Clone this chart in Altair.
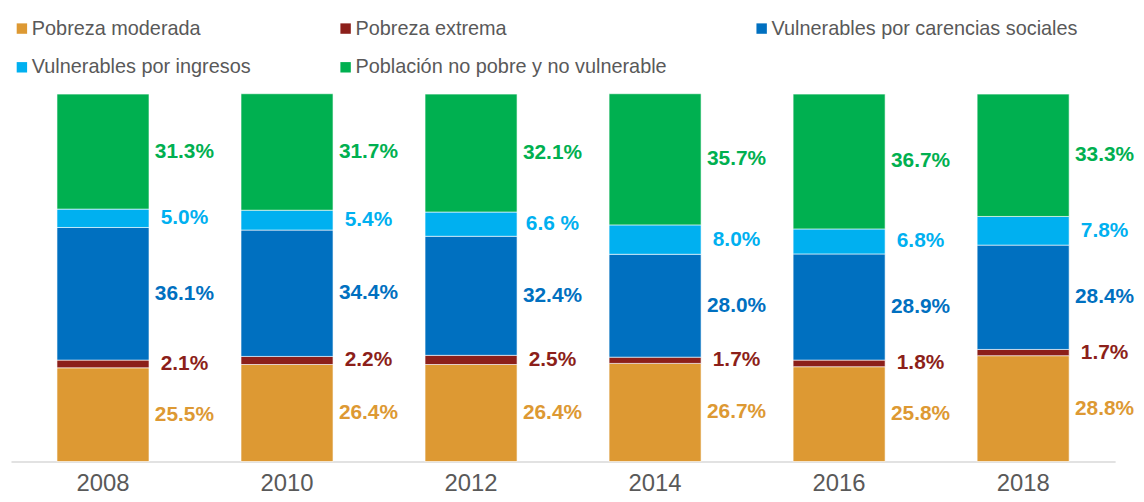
import altair as alt
import pandas as pd

years = ["2008", "2010", "2012", "2014", "2016", "2018"]
series = [
    "Pobreza moderada",
    "Pobreza extrema",
    "Vulnerables por carencias sociales",
    "Vulnerables por ingresos",
    "Población no pobre y no vulnerable",
]
colors = ["#DD9933", "#8C1F1A", "#0070C0", "#00B0F0", "#00B050"]

pobreza_moderada = [25.5, 26.4, 26.4, 26.7, 25.8, 28.8]
pobreza_extrema = [2.1, 2.2, 2.5, 1.7, 1.8, 1.7]
vuln_carencias = [36.1, 34.4, 32.4, 28.0, 28.9, 28.4]
vuln_ingresos = [5.0, 5.4, 6.6, 8.0, 6.8, 7.8]
no_pobre = [31.3, 31.7, 32.1, 35.7, 36.7, 33.3]

labels_moderada = ["25.5%", "26.4%", "26.4%", "26.7%", "25.8%", "28.8%"]
labels_extrema = ["2.1%", "2.2%", "2.5%", "1.7%", "1.8%", "1.7%"]
labels_carencias = ["36.1%", "34.4%", "32.4%", "28.0%", "28.9%", "28.4%"]
labels_ingresos = ["5.0%", "5.4%", "6.6 %", "8.0%", "6.8%", "7.8%"]
labels_no_pobre = ["31.3%", "31.7%", "32.1%", "35.7%", "36.7%", "33.3%"]

all_values = [pobreza_moderada, pobreza_extrema, vuln_carencias, vuln_ingresos, no_pobre]
all_labels = [labels_moderada, labels_extrema, labels_carencias, labels_ingresos, labels_no_pobre]

rows = []
for k, s in enumerate(series):
    for j, yr in enumerate(years):
        rows.append({"year": yr, "serie": s, "order": k,
                     "value": all_values[k][j], "label": all_labels[k][j]})
df = pd.DataFrame(rows)

FONT = "Liberation Sans"
GRAY = "#595959"

base = alt.Chart(df).transform_stack(
    stack="value", groupby=["year"], as_=["y0", "y1"],
    sort=[alt.SortField("order", order="ascending")],
)

x_enc = alt.X(
    "year:N",
    sort=years,
    scale=alt.Scale(paddingInner=0.5, paddingOuter=0.25),
    axis=alt.Axis(title=None, labelAngle=0, labelFontSize=24, labelColor=GRAY,
                  labelFont=FONT, domainColor="#D9D9D9", domainWidth=1.5,
                  ticks=False, labelPadding=10),
)
y_scale = alt.Scale(domain=[0, 100], nice=False, zero=True)

legend_pos = [(1, -76), (327, -76), (746, -76), (1, -37), (327, -37)]

layers = []
for k, s in enumerate(series):
    lx, ly = legend_pos[k]
    layers.append(
        base.transform_filter(alt.datum.serie == s)
        .mark_bar(stroke="white", strokeWidth=0.6)
        .encode(
            x=x_enc,
            y=alt.Y("y0:Q", scale=y_scale, axis=None),
            y2="y1:Q",
            color=alt.Color(
                "serie:N",
                scale=alt.Scale(domain=[s], range=[colors[k]]),
                legend=alt.Legend(
                    title=None, orient="none", legendX=lx, legendY=ly,
                    symbolType="square", symbolSize=110, symbolStrokeWidth=0,
                    labelFontSize=20, labelColor=GRAY, labelFont=FONT,
                    labelOffset=0, padding=0, labelLimit=600,
                ),
            ),
        )
    )

text = base.transform_calculate(mid="(datum.y0 + datum.y1) / 2").mark_text(
    dx=82, fontSize=21, fontWeight="bold", font=FONT, baseline="middle", align="center"
).encode(
    x=x_enc,
    y=alt.Y("mid:Q", scale=y_scale, axis=None),
    text="label:N",
    color=alt.Color("serie:N", scale=alt.Scale(domain=series, range=colors), legend=None),
)
layers.append(text)

chart = (
    alt.layer(*layers)
    .resolve_scale(color="independent")
    .properties(
        width=1112, height=370, autosize="none",
        padding={"left": 3, "top": 85, "right": 21, "bottom": 31},
    )
    .configure_view(stroke=None)
)

chart.save("out.html", embed_options={"renderer": "svg", "actions": False})
